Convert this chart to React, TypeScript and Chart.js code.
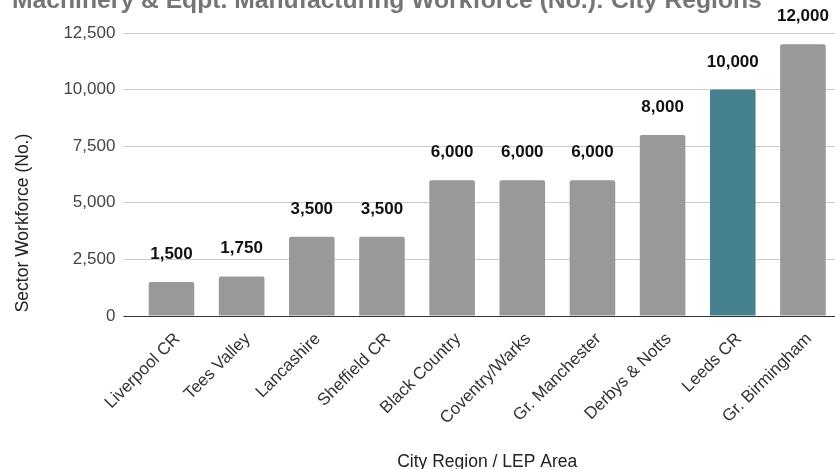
import React, { useEffect, useRef } from 'react';
import { Chart, registerables } from 'chart.js';

Chart.register(...registerables);

const chartTitle = 'Machinery & Eqpt. Manufacturing Workforce (No.): City Regions';
const xAxisTitle = 'City Region / LEP Area';
const yAxisTitle = 'Sector Workforce (No.)';

const categories = [
  'Liverpool CR',
  'Tees Valley',
  'Lancashire',
  'Sheffield CR',
  'Black Country',
  'Coventry/Warks',
  'Gr. Manchester',
  'Derbys & Notts',
  'Leeds CR',
  'Gr. Birmingham',
];

const workforce = [1500, 1750, 3500, 3500, 6000, 6000, 6000, 8000, 10000, 12000];

const barColors = [
  '#999999',
  '#999999',
  '#999999',
  '#999999',
  '#999999',
  '#999999',
  '#999999',
  '#999999',
  '#45818e',
  '#999999',
];

const yMin = 0;
const yMax = 12500;
const yStep = 2500;

const FONT = '"Liberation Sans", Arial, sans-serif';
const W = 838;
const H = 469;

const fmt = (v: number) => v.toLocaleString('en-US');

const overlayPlugin = {
  id: 'overlay',
  afterDatasetsDraw(chart: any) {
    const ctx = chart.ctx;
    const meta = chart.getDatasetMeta(0);
    ctx.save();
    ctx.fillStyle = '#111111';
    ctx.font = `bold 17px ${FONT}`;
    ctx.textAlign = 'center';
    ctx.textBaseline = 'alphabetic';
    meta.data.forEach((bar: any, i: number) => {
      ctx.fillText(fmt(workforce[i]), bar.x, bar.y - 23);
    });
    ctx.restore();
  },
  afterDraw(chart: any) {
    const ctx = chart.ctx;
    const ca = chart.chartArea;
    ctx.save();
    // chart title (clipped at top as in the reference)
    ctx.fillStyle = '#757575';
    ctx.font = `bold 24.7px ${FONT}`;
    ctx.textAlign = 'left';
    ctx.textBaseline = 'alphabetic';
    ctx.fillText(chartTitle, 12, 8);
    // x axis title
    ctx.fillStyle = '#222222';
    ctx.font = `17.5px ${FONT}`;
    ctx.textAlign = 'center';
    ctx.fillText(xAxisTitle, (ca.left + ca.right) / 2, 467);
    // y axis title
    ctx.translate(23, 223);
    ctx.rotate(-Math.PI / 2);
    ctx.textBaseline = 'middle';
    ctx.fillText(yAxisTitle, 0, 0);
    ctx.restore();
  },
};

export default function App() {
  const canvasRef = useRef<HTMLCanvasElement | null>(null);

  useEffect(() => {
    if (!canvasRef.current) return;
    const chart = new Chart(canvasRef.current, {
      type: 'bar',
      data: {
        labels: categories,
        datasets: [
          {
            data: workforce,
            backgroundColor: barColors,
            borderWidth: 0,
            borderRadius: { topLeft: 2, topRight: 2, bottomLeft: 0, bottomRight: 0 },
            borderSkipped: false,
            categoryPercentage: 1,
            barPercentage: 0.65,
          },
        ],
      },
      options: {
        responsive: false,
        animation: false,
        devicePixelRatio: 1,
        layout: { padding: { top: 33, left: 0, right: 0, bottom: 0 } },
        plugins: {
          legend: { display: false },
          title: { display: false },
          tooltip: { enabled: false },
        },
        scales: {
          x: {
            grid: { display: false },
            border: { display: false },
            ticks: {
              autoSkip: false,
              maxRotation: 45,
              minRotation: 45,
              padding: 5,
              labelOffset: 6,
              color: '#333333',
              font: { family: FONT, size: 17 },
            },
            afterFit: (scale: any) => {
              scale.height = H - 316;
            },
          },
          y: {
            min: yMin,
            max: yMax,
            border: { display: false },
            grid: {
              tickLength: 13,
              lineWidth: 1,
              color: (ctx: any) => (ctx.tick && ctx.tick.value === 0 ? '#333333' : '#cccccc'),
            },
            ticks: {
              stepSize: yStep,
              padding: 8,
              color: '#444444',
              font: { family: FONT, size: 17 },
              callback: (v: any) => fmt(Number(v)),
            },
            afterFit: (scale: any) => {
              scale.width = 136.4;
            },
          },
        },
      },
      plugins: [overlayPlugin],
    });
    return () => chart.destroy();
  }, []);

  return (
    <div
      style={{
        position: 'fixed',
        left: 0,
        top: 0,
        width: 835,
        height: 469,
        overflow: 'hidden',
        background: '#ffffff',
      }}
    >
      <canvas
        ref={canvasRef}
        width={W}
        height={H}
        style={{ display: 'block', width: W, height: H }}
      />
    </div>
  );
}
